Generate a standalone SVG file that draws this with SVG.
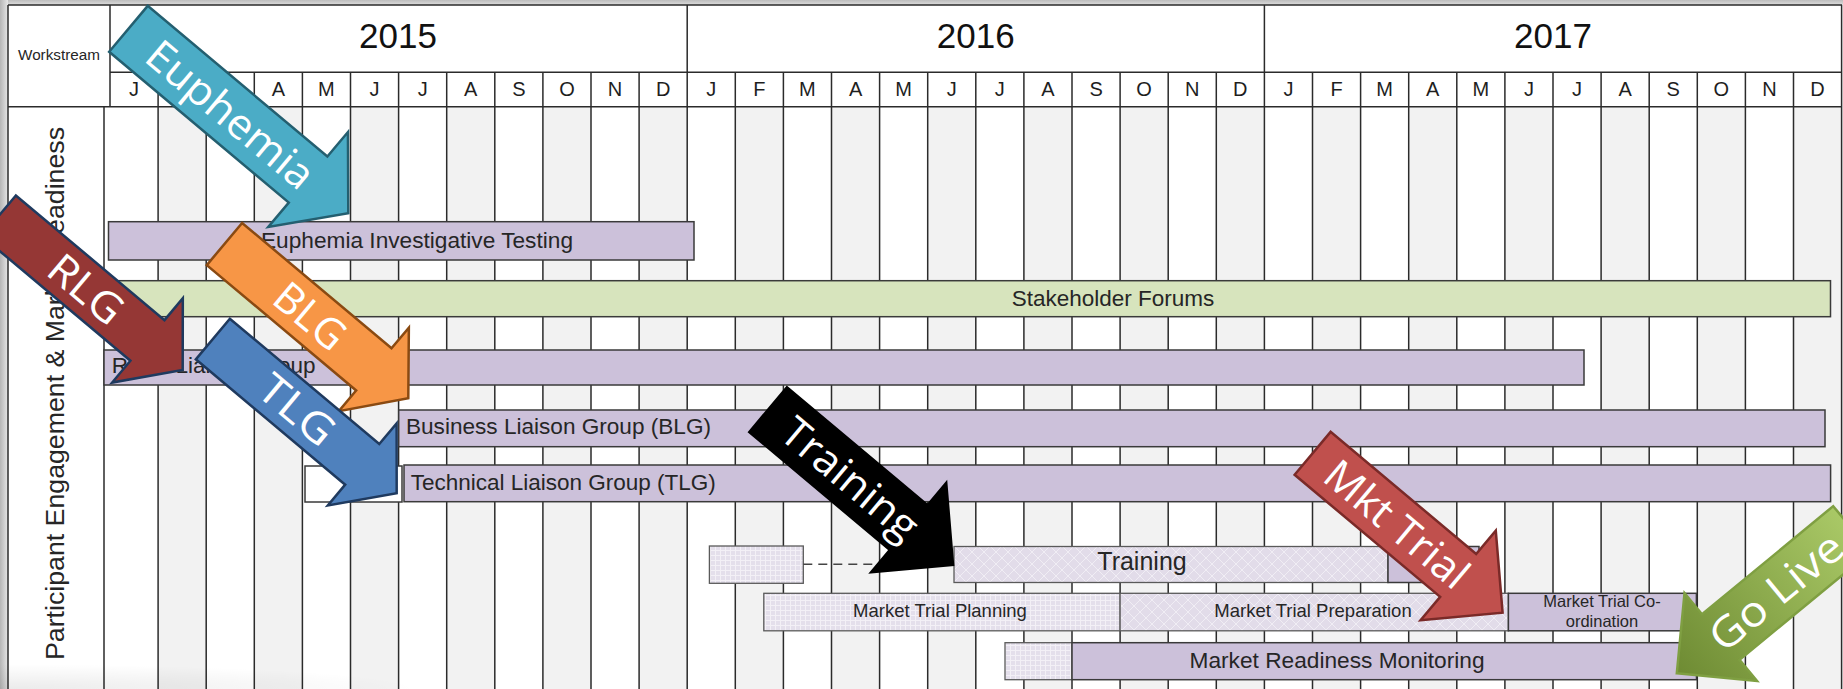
<svg xmlns="http://www.w3.org/2000/svg" width="1843" height="689" viewBox="0 0 1843 689">
<style>
.ln{stroke:#2b2b2b;stroke-width:1.5;fill:none}
.bar{fill:#ccc1da;stroke:#3a3a3a;stroke-width:1.5}
.grn{fill:#d7e4bd;stroke:#3a3a3a;stroke-width:1.5}
.pg{fill:url(#pGrid);stroke:#5a5a5a;stroke-width:1.3}
.pd{fill:url(#pDiam);stroke:#5a5a5a;stroke-width:1.3}
.t{font-family:"Liberation Sans",Arial,sans-serif;fill:#262626}
.mo{font-family:"Liberation Sans",Arial,sans-serif;fill:#1e1e1e;font-size:20px;text-anchor:middle}
.yr{font-family:"Liberation Sans",Arial,sans-serif;fill:#111;font-size:35px;text-anchor:middle}
.at{font-family:"Open Sans","Noto Sans",sans-serif;fill:#fff;font-size:42px;text-anchor:middle}
.gc{fill:#f2f2f2}
</style>
<defs>
<pattern id="pGrid" width="5" height="5" patternUnits="userSpaceOnUse"><rect width="5" height="5" fill="#e4dfeb"/><path d="M0,0.5H5M0.5,0V5" stroke="#f3f0f6" stroke-width="1"/></pattern>
<pattern id="pDiam" width="12" height="12" patternUnits="userSpaceOnUse"><rect width="12" height="12" fill="#e2dce9"/><path d="M0,0L12,12M12,0L0,12" stroke="#f0edf4" stroke-width="1"/></pattern>
<linearGradient id="gLeft" x1="0" y1="0" x2="1" y2="0"><stop offset="0" stop-color="#b5b5b5"/><stop offset="1" stop-color="#e6e6e6"/></linearGradient>
<linearGradient id="gTop" x1="0" y1="0" x2="0" y2="1"><stop offset="0" stop-color="#bdbdbd"/><stop offset="1" stop-color="#dedede"/></linearGradient>
<radialGradient id="gBot" cx="0" cy="1" r="1"><stop offset="0" stop-color="#000" stop-opacity="0.16"/><stop offset="1" stop-color="#000" stop-opacity="0"/></radialGradient>
<linearGradient id="gGreen" x1="0" y1="0" x2="1" y2="0"><stop offset="0" stop-color="#a9c866"/><stop offset="1" stop-color="#6e8b33"/></linearGradient>
</defs>

<rect x="0" y="0" width="1843" height="689" fill="#ffffff"/>
<rect x="0" y="0" width="1843" height="5" fill="url(#gTop)"/>
<rect x="0" y="0" width="8" height="689" fill="url(#gLeft)"/>

<g id="grid">
<rect x="8" y="106.7" width="1834" height="583" fill="#fff"/>
<rect class="gc" x="158.1" y="106.7" width="48.1" height="583"/>
<rect class="gc" x="254.3" y="106.7" width="48.1" height="583"/>
<rect class="gc" x="350.5" y="106.7" width="48.1" height="583"/>
<rect class="gc" x="446.7" y="106.7" width="48.1" height="583"/>
<rect class="gc" x="542.9" y="106.7" width="48.1" height="583"/>
<rect class="gc" x="639.1" y="106.7" width="48.1" height="583"/>
<rect class="gc" x="735.3" y="106.7" width="48.1" height="583"/>
<rect class="gc" x="831.5" y="106.7" width="48.1" height="583"/>
<rect class="gc" x="927.7" y="106.7" width="48.1" height="583"/>
<rect class="gc" x="1023.9" y="106.7" width="48.1" height="583"/>
<rect class="gc" x="1120.1" y="106.7" width="48.1" height="583"/>
<rect class="gc" x="1216.3" y="106.7" width="48.1" height="583"/>
<rect class="gc" x="1312.5" y="106.7" width="48.1" height="583"/>
<rect class="gc" x="1408.7" y="106.7" width="48.1" height="583"/>
<rect class="gc" x="1504.9" y="106.7" width="48.1" height="583"/>
<rect class="gc" x="1601.1" y="106.7" width="48.1" height="583"/>
<rect class="gc" x="1697.3" y="106.7" width="48.1" height="583"/>
<rect class="gc" x="1793.5" y="106.7" width="48.1" height="583"/>
<path class="ln" d="M8,5H1842M8,5V689M1841.6,5V689M110,72.3H1842M8,106.7H1842M110,5V106.7M687.2,5V72.3M1264.4,5V72.3M104,106.7V689
M158.1,72.3V689M206.2,72.3V689M254.3,72.3V689M302.4,72.3V689M350.5,72.3V689M398.6,72.3V689M446.7,72.3V689M494.8,72.3V689M542.9,72.3V689M591,72.3V689M639.1,72.3V689M687.2,72.3V689
M735.3,72.3V689M783.4,72.3V689M831.5,72.3V689M879.6,72.3V689M927.7,72.3V689M975.8,72.3V689M1023.9,72.3V689M1072,72.3V689M1120.1,72.3V689M1168.2,72.3V689M1216.3,72.3V689M1264.4,72.3V689
M1312.5,72.3V689M1360.6,72.3V689M1408.7,72.3V689M1456.8,72.3V689M1504.9,72.3V689M1553,72.3V689M1601.1,72.3V689M1649.2,72.3V689M1697.3,72.3V689M1745.4,72.3V689M1793.5,72.3V689"/>
</g>

<g id="header">
<text class="t" x="59" y="60" font-size="15.5" text-anchor="middle" textLength="82" lengthAdjust="spacingAndGlyphs">Workstream</text>
<text class="yr" x="398" y="48.3">2015</text>
<text class="yr" x="975.8" y="48.3">2016</text>
<text class="yr" x="1553" y="48.3">2017</text>
<text class="mo" x="134.05" y="96">J</text><text class="mo" x="182.15" y="96">F</text><text class="mo" x="230.25" y="96">M</text><text class="mo" x="278.35" y="96">A</text><text class="mo" x="326.45" y="96">M</text><text class="mo" x="374.55" y="96">J</text><text class="mo" x="422.65" y="96">J</text><text class="mo" x="470.75" y="96">A</text><text class="mo" x="518.85" y="96">S</text><text class="mo" x="566.95" y="96">O</text><text class="mo" x="615.05" y="96">N</text><text class="mo" x="663.15" y="96">D</text>
<text class="mo" x="711.25" y="96">J</text><text class="mo" x="759.35" y="96">F</text><text class="mo" x="807.45" y="96">M</text><text class="mo" x="855.55" y="96">A</text><text class="mo" x="903.65" y="96">M</text><text class="mo" x="951.75" y="96">J</text><text class="mo" x="999.85" y="96">J</text><text class="mo" x="1047.95" y="96">A</text><text class="mo" x="1096.05" y="96">S</text><text class="mo" x="1144.15" y="96">O</text><text class="mo" x="1192.25" y="96">N</text><text class="mo" x="1240.35" y="96">D</text>
<text class="mo" x="1288.45" y="96">J</text><text class="mo" x="1336.55" y="96">F</text><text class="mo" x="1384.65" y="96">M</text><text class="mo" x="1432.75" y="96">A</text><text class="mo" x="1480.85" y="96">M</text><text class="mo" x="1528.95" y="96">J</text><text class="mo" x="1577.05" y="96">J</text><text class="mo" x="1625.15" y="96">A</text><text class="mo" x="1673.25" y="96">S</text><text class="mo" x="1721.35" y="96">O</text><text class="mo" x="1769.45" y="96">N</text><text class="mo" x="1817.55" y="96">D</text>
</g>

<g id="workstream-label">
<text class="t" transform="translate(64,393.5) rotate(-90)" x="0" y="0" font-size="26.5" text-anchor="middle" textLength="533" lengthAdjust="spacingAndGlyphs">Participant Engagement &amp; Market Readiness</text>
</g>

<g id="bar-euphemia">
<rect class="bar" x="108.5" y="221.7" width="585.5" height="38.3"/>
<text class="t" x="261" y="248" font-size="22.5" textLength="312" lengthAdjust="spacingAndGlyphs">Euphemia Investigative Testing</text>
</g>
<g id="bar-stakeholder">
<rect class="grn" x="104" y="280.7" width="1726.5" height="36"/>
<text class="t" x="1113" y="306" font-size="22.5" text-anchor="middle">Stakeholder Forums</text>
</g>
<g id="bar-rlg">
<rect class="bar" x="104" y="350" width="1480" height="35"/>
<text class="t" x="111.7" y="373" font-size="22.5">Retail Liaison Group</text>
</g>
<g id="bar-blg">
<rect class="bar" x="398.7" y="410" width="1426.3" height="36.7"/>
<text class="t" x="406" y="433.5" font-size="22.5" textLength="305" lengthAdjust="spacingAndGlyphs">Business Liaison Group (BLG)</text>
</g>
<g id="bar-tlg">
<rect x="305" y="466" width="97" height="36" fill="#fff" stroke="#3a3a3a" stroke-width="1.5"/>
<rect class="bar" x="404" y="465" width="1426.6" height="36.7"/>
<text class="t" x="410.7" y="490" font-size="22.5">Technical Liaison Group (TLG)</text>
</g>
<g id="bar-training">
<rect class="pg" x="709.4" y="546" width="93.9" height="37.3"/>
<rect class="pd" x="954" y="546.5" width="434" height="36"/>
<rect class="bar" x="1388" y="546.5" width="91" height="36"/>
<text class="t" x="1142" y="570" font-size="25" text-anchor="middle">Training</text>
</g>
<g id="bar-mt-planning">
<rect class="pg" x="763.8" y="593.3" width="356.3" height="37.5"/>
<text class="t" x="940" y="617" font-size="18.5" text-anchor="middle">Market Trial Planning</text>
</g>
<g id="bar-mt-preparation">
<rect class="pd" x="1120.1" y="593.3" width="388.3" height="37.5"/>
<text class="t" x="1313" y="617" font-size="18.5" text-anchor="middle">Market Trial Preparation</text>
</g>
<g id="bar-mt-coordination">
<rect class="bar" x="1508.4" y="593.3" width="188" height="37.5"/>
<text class="t" x="1602" y="606.7" font-size="16.5" text-anchor="middle">Market Trial Co-</text>
<text class="t" x="1602" y="626.5" font-size="16.5" text-anchor="middle">ordination</text>
</g>
<g id="bar-readiness">
<rect class="pg" x="1005" y="642.7" width="67" height="37"/>
<rect class="bar" x="1072" y="642.7" width="624.5" height="37"/>
<text class="t" x="1189.5" y="668" font-size="22.7">Market Readiness Monitoring</text>
</g>

<g id="connectors">
<path d="M803.3,564.3H953" stroke="#444" stroke-width="1.6" stroke-dasharray="9,6" fill="none"/>
</g>

<g id="arrow-euphemia" transform="translate(348.3,213.3) rotate(40)">
<polygon points="0,0 -52.5,-62 -52.5,-30 -287,-30 -287,30 -52.5,30 -52.5,62" fill="#4bacc6" stroke="#245f70" stroke-width="2.5"/>
<text class="at" x="-153.7" y="15" textLength="205" lengthAdjust="spacingAndGlyphs">Euphemia</text>
</g>
<g id="arrow-rlg" transform="translate(182.7,370) rotate(40)">
<polygon points="0,0 -46,-55 -46,-26.5 -240,-26.5 -240,26.5 -46,26.5 -46,55" fill="#953735" stroke="#1f3a5f" stroke-width="2.5"/>
<text class="at" x="-126" y="15" textLength="84" lengthAdjust="spacingAndGlyphs">RLG</text>
</g>
<g id="arrow-blg" transform="translate(408.3,398.3) rotate(40)">
<polygon points="0,0 -45,-54.5 -45,-27.5 -240,-27.5 -240,27.5 -45,27.5 -45,54.5" fill="#f79646" stroke="#8a4a12" stroke-width="2.5"/>
<text class="at" x="-128" y="15" textLength="80" lengthAdjust="spacingAndGlyphs">BLG</text>
</g>
<g id="arrow-tlg" transform="translate(396.7,493.3) rotate(40)">
<polygon points="0,0 -45,-53.5 -45,-26.5 -240,-26.5 -240,26.5 -45,26.5 -45,53.5" fill="#4f81bd" stroke="#1f3a5f" stroke-width="2.5"/>
<text class="at" x="-130" y="15" textLength="86" lengthAdjust="spacingAndGlyphs">TLG</text>
</g>
<g id="arrow-training" transform="translate(953.3,565) rotate(40)">
<polygon points="0,0 -58.5,-59 -58.5,-29.5 -242,-29.5 -242,29.5 -58.5,29.5 -58.5,59" fill="#000" stroke="#000" stroke-width="2"/>
<text class="at" x="-134.5" y="15" textLength="165" lengthAdjust="spacingAndGlyphs">Training</text>
</g>
<g id="arrow-mkt-trial" transform="translate(1502.6,612.7) rotate(40)">
<polygon points="0,0 -58,-58.5 -58,-28 -248,-28 -248,28 -58,28 -58,58.5" fill="#c0504d" stroke="#7a2a28" stroke-width="2.5"/>
<text class="at" x="-137.8" y="15" textLength="174" lengthAdjust="spacingAndGlyphs">Mkt Trial</text>
</g>
<g id="arrow-go-live">
<polygon transform="translate(1676.8,673.3) rotate(140.5)" points="0,0 -57,-57 -57,-29.5 -227,-29.5 -227,29.5 -57,29.5 -57,57" fill="url(#gGreen)" stroke="#7f9f42" stroke-width="2.5"/>
<text class="at" transform="translate(1776,591.6) rotate(-39.5)" x="0" y="15" textLength="160" lengthAdjust="spacingAndGlyphs">Go Live</text>
</g>

<rect x="0" y="664" width="420" height="25" fill="url(#gBot)" opacity="0.5"/>
</svg>
